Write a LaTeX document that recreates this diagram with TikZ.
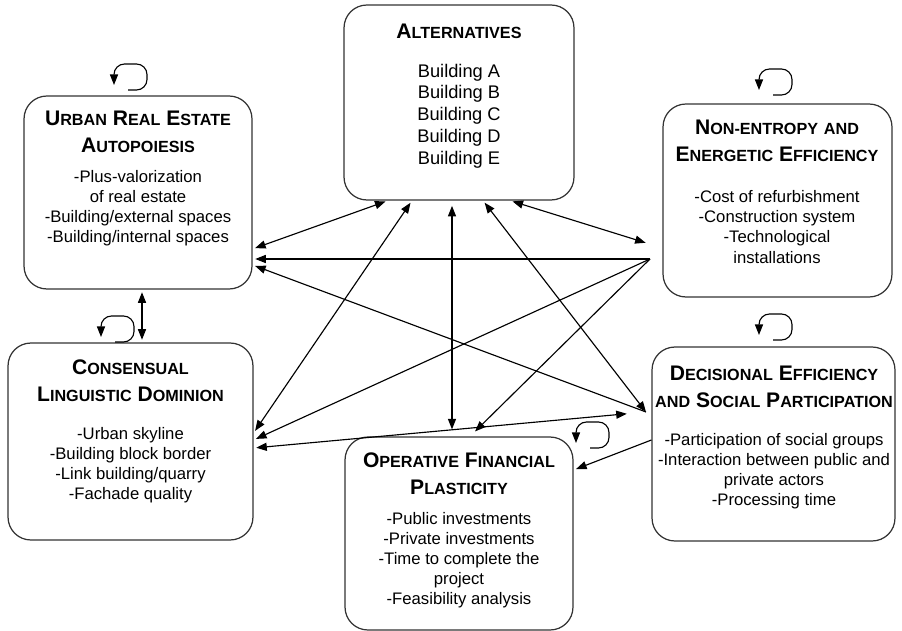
\documentclass[tikz,border=0pt]{standalone}
\usepackage{fontspec}
\setmainfont{Liberation Sans}
\usetikzlibrary{arrows.meta}
\newcommand\sct[2]{{\fontsize{12}{15.5}\selectfont #1}{\fontsize{9.2}{15.5}\selectfont #2}}

\begin{document}
\begin{tikzpicture}[x=0.02cm, y=-0.02cm,
    >={Triangle[length=6pt,width=4.6pt]},
    box/.style={draw=black!80, line width=0.7pt, rounded corners=13pt, inner sep=0pt},
    ttl/.style={font=\bfseries\fontsize{12}{15.5}\selectfont, align=center, inner sep=0pt},
    txt/.style={font=\fontsize{9.5}{11.4}\selectfont, align=center, inner sep=0pt},
    link/.style={line width=0.65pt, ->, shorten >=1.5pt},
    twoway/.style={line width=0.65pt, <->, shorten >=1.5pt, shorten <=1.5pt},
    selfloop/.style={line width=0.65pt, rounded corners=6pt, ->}]
  \useasboundingbox (0,0) rectangle (902,631);

  % boxes
  \node[box, minimum width=4.6cm, minimum height=3.9cm] (alt) at (459,102.5) {};
  \node[box, minimum width=4.56cm, minimum height=3.86cm] (urb) at (138,192.5) {};
  \node[box, minimum width=4.58cm, minimum height=3.86cm] (nen) at (777.5,200.5) {};
  \node[box, minimum width=4.9cm, minimum height=3.94cm] (con) at (130.5,441.5) {};
  \node[box, minimum width=4.86cm, minimum height=3.88cm] (dec) at (773.5,444) {};
  \node[box, minimum width=4.56cm, minimum height=3.86cm] (ope) at (459,533.5) {};

  % texts
  \node[ttl] (altT) at (459,31) {\sct{A}{LTERNATIVES}};
  \node[txt, font=\fontsize{10.4}{12.4}\selectfont] (altB) at (459,116)
    {Building A\\Building B\\Building C\\Building D\\Building E};

  \node[ttl] (urbT) at (138,132) {\sct{U}{RBAN} \sct{R}{EAL} \sct{E}{STATE}\\\sct{A}{UTOPOIESIS}};
  \node[txt] (urbB) at (138,208.5)
    {-Plus-valorization\\of real estate\\-Building/external spaces\\-Building/internal spaces};

  \node[ttl] (nenT) at (777,140.5) {\sct{N}{ON-ENTROPY} \sct{}{AND}\\\sct{E}{NERGETIC} \sct{E}{FFICIENCY}};
  \node[txt] (nenB) at (777,227)
    {-Cost of refurbishment\\-Construction system\\-Technological\\installations};

  \node[ttl] (conT) at (130.5,380.5) {\sct{C}{ONSENSUAL}\\\sct{L}{INGUISTIC} \sct{D}{OMINION}};
  \node[txt] (conB) at (130.5,465.5)
    {-Urban skyline\\-Building block border\\-Link building/quarry\\-Fachade quality};

  \node[ttl] (decT) at (774,386.5) {\sct{D}{ECISIONAL} \sct{E}{FFICIENCY}\\\sct{}{AND} \sct{S}{OCIAL} \sct{P}{ARTICIPATION}};
  \node[txt] (decB) at (774,471)
    {-Participation of social groups\\-Interaction between public and\\private actors\\-Processing time};

  \node[ttl] (opeT) at (459,473.5) {\sct{O}{PERATIVE} \sct{F}{INANCIAL}\\\sct{P}{LASTICITY}};
  \node[txt] (opeB) at (459,560)
    {-Public investments\\-Private investments\\-Time to complete the\\project\\-Feasibility analysis};

  % meeting points left of the right boxes
  \coordinate (hubN) at (650,259);
  \coordinate (hubD) at (646,412);

  % connectors
  \draw[twoway] (urb.east |- 0,249) -- (388,0 |- alt.south);
  \draw[twoway] (con.east |- 0,433) -- (412,0 |- alt.south);
  \draw[twoway, shorten <=3pt, shorten >=4pt] (452,0 |- alt.south) -- (452,0 |- ope.north);
  \draw[twoway, shorten >=0pt] (483,0 |- alt.south) -- (hubD);
  \draw[twoway, shorten >=10pt] (510,0 |- alt.south) -- (nen.west |- 0,248);
  \draw[link] (hubN) -- (urb.east |- hubN);
  \draw[link] (hubD) -- (urb.east |- 0,265);
  \draw[link] (hubN) -- (con.east |- 0,440);
  \draw[link, shorten >=4pt] (hubN) -- (470,0 |- ope.north);
  \draw[twoway, shorten >=11pt] (con.east |- 0,448) -- (hubD);
  \draw[link] (dec.west |- 0,440) -- (ope.east |- 0,470);
  \draw[twoway] (142,0 |- urb.south) -- (142,0 |- con.north);

  % feedback loops
  \foreach \lx/\ly in {114/90, 759/95, 101/342, 759/340, 576/448}
    \draw[selfloop] (\lx+14,\ly) -- (\lx+33,\ly) -- (\lx+33,\ly-26) -- (\lx,\ly-26) -- (\lx,\ly-5);
\end{tikzpicture}
\end{document}
